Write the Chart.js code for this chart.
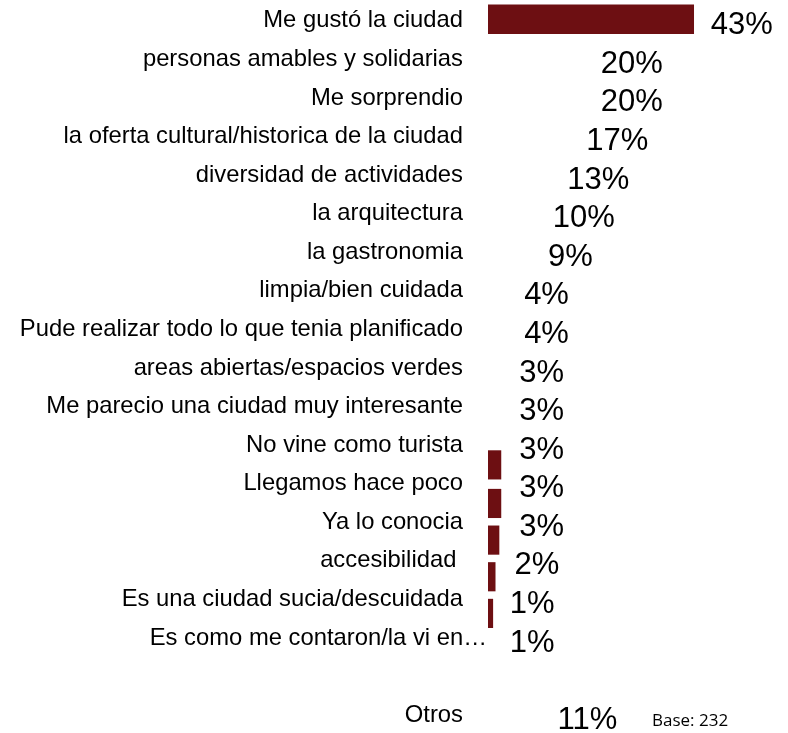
<!DOCTYPE html>
<html>
<head>
<meta charset="utf-8">
<script src="https://cdn.jsdelivr.net/npm/chart.js@4"></script>
<style>
  html, body { margin: 0; padding: 0; background: #ffffff; }
  #wrap { width: 788px; height: 733px; position: relative; }
</style>
</head>
<body>
<div id="wrap"><canvas id="motivosChart"></canvas></div>
<script>
// Datos
const categorias = [
    'Me gustó la ciudad',
    'personas amables y solidarias',
    'Me sorprendio',
    'la oferta cultural/historica de la ciudad',
    'diversidad de actividades',
    'la arquitectura',
    'la gastronomia',
    'limpia/bien cuidada',
    'Pude realizar todo lo que tenia planificado',
    'areas abiertas/espacios verdes',
    'Me parecio una ciudad muy interesante',
    'No vine como turista',
    'Llegamos hace poco',
    'Ya lo conocia',
    'accesibilidad ',
    'Es una ciudad sucia/descuidada',
    'Es como me contaron/la vi en…',
    '',
    'Otros'
];
const porcentajes = [43, 20, 20, 17, 13, 10, 9, 4, 4, 3, 3, 3, 3, 3, 2, 1, 1, null, 11];

// barras visibles desplazadas media fila (asi aparecen en el original)
const barrasDesplazadasPos = [11.55, 12.55, 13.5, 14.45, 15.4];
const barrasDesplazadasValor = [2.7, 2.7, 2.3, 1.5, 1.0];

const baseTexto = 'Base: 232';

const ROJO = '#6D0F12';
const FUENTE = '"Liberation Sans", Arial, sans-serif';

const etiquetasPlugin = {
    id: 'etiquetas',
    afterDatasetsDraw(chart) {
        const ctx = chart.ctx;
        const x = chart.scales.x;
        const y = chart.scales.y;
        const area = chart.chartArea;
        ctx.save();
        ctx.fillStyle = '#000000';

        // etiquetas de categoria
        ctx.font = '23.8px ' + FUENTE;
        ctx.textAlign = 'right';
        ctx.textBaseline = 'middle';
        categorias.forEach((c, i) => {
            if (!c) return;
            const py = y.getPixelForTick(i) + 1.5;
            const px = c.endsWith('…') ? area.left - 1 : area.left - 25;
            ctx.fillText(c, px, py);
        });

        // porcentajes
        ctx.font = '31px ' + FUENTE;
        ctx.textAlign = 'left';
        porcentajes.forEach((v, i) => {
            if (v === null) return;
            const px = x.getPixelForValue(v) + 17;
            const py = y.getPixelForTick(i) + 6.5;
            ctx.fillText(v + '%', px, py);
        });

        // base
        ctx.font = '17px "Open Sans", sans-serif';
        ctx.fillText(baseTexto, 652, y.getPixelForTick(categorias.length - 1) + 7);
        ctx.restore();
    }
};

const ctx = document.getElementById('motivosChart').getContext('2d');
new Chart(ctx, {
    type: 'bar',
    data: {
        labels: categorias,
        datasets: [
            {
                data: porcentajes,
                backgroundColor: (c) => (c.dataIndex === 0 ? ROJO : 'rgba(0,0,0,0)'),
                barThickness: 29,
                grouped: false,
                yAxisID: 'y',
            },
            {
                data: barrasDesplazadasPos.map((p, i) => ({ x: barrasDesplazadasValor[i], y: p })),
                backgroundColor: ROJO,
                barThickness: 28.5,
                grouped: false,
                yAxisID: 'y2',
            },
        ],
    },
    options: {
        indexAxis: 'y',
        responsive: true,
        maintainAspectRatio: false,
        animation: false,
        layout: {
            padding: { top: 0, bottom: 0, left: 0, right: 13 },
        },
        scales: {
            x: {
                display: false,
                min: 0,
                max: 60,
            },
            y: {
                type: 'category',
                offset: true,
                grid: { display: false },
                border: { display: false },
                ticks: { display: false },
                afterFit: function (scale) {
                    scale.width = 488;
                },
            },
            y2: {
                type: 'linear',
                display: false,
                offset: false,
                reverse: true,
                min: -0.5,
                max: categorias.length - 0.5,
            },
        },
        plugins: {
            legend: { display: false },
            tooltip: { enabled: false },
        },
    },
    plugins: [etiquetasPlugin],
});
</script>
</body>
</html>
